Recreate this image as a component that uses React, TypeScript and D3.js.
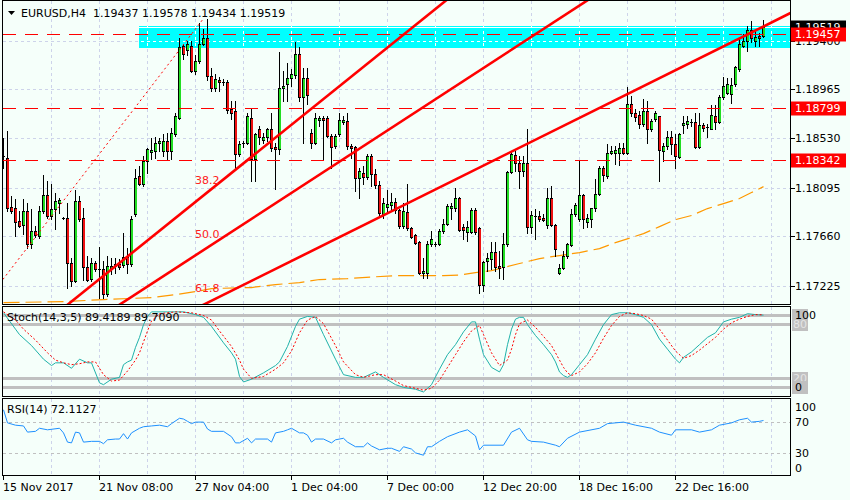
import React, {useRef, useEffect} from 'react';
import * as d3 from 'd3';

// H4 bars, [open, high, low, close]
const ohlc: [number, number, number, number][] = [
    [1.18369, 1.18530, 1.18272, 1.18378], [1.18361, 1.18601, 1.17890, 1.17917], [1.17926, 1.18023, 1.17872, 1.17890],
    [1.17917, 1.17997, 1.17668, 1.17792], [1.17801, 1.17890, 1.17748, 1.17757], [1.17766, 1.17997, 1.17686, 1.17890],
    [1.17890, 1.17961, 1.17562, 1.17597], [1.17597, 1.17908, 1.17562, 1.17713], [1.17713, 1.17757, 1.17659, 1.17677],
    [1.17668, 1.17935, 1.17651, 1.17890], [1.17890, 1.18209, 1.17872, 1.18032], [1.18032, 1.18157, 1.17828, 1.17846],
    [1.17846, 1.18130, 1.17819, 1.17908], [1.17908, 1.18050, 1.17730, 1.17979], [1.17961, 1.18005, 1.17872, 1.17988],
    [1.17828, 1.17837, 1.17819, 1.17828], [1.17828, 1.17961, 1.17207, 1.17429], [1.17429, 1.17473, 1.17224, 1.17269],
    [1.17269, 1.18077, 1.17260, 1.17979], [1.17979, 1.18023, 1.17801, 1.17819], [1.17828, 1.17917, 1.17278, 1.17393],
    [1.17393, 1.17491, 1.17269, 1.17278], [1.17286, 1.17473, 1.17269, 1.17429], [1.17429, 1.17446, 1.17357, 1.17375],
    [1.17375, 1.17571, 1.17118, 1.17366], [1.17375, 1.17446, 1.17118, 1.17153], [1.17153, 1.17491, 1.17135, 1.17402],
    [1.17375, 1.17473, 1.17331, 1.17402], [1.17402, 1.17473, 1.17340, 1.17420], [1.17420, 1.17464, 1.17375, 1.17393],
    [1.17411, 1.17695, 1.17393, 1.17482], [1.17482, 1.17562, 1.17340, 1.17420], [1.17420, 1.17846, 1.17402, 1.17819],
    [1.17863, 1.18263, 1.17846, 1.18183], [1.18201, 1.18290, 1.18121, 1.18130], [1.18130, 1.18378, 1.18112, 1.18334],
    [1.18334, 1.18449, 1.18227, 1.18441], [1.18414, 1.18530, 1.18352, 1.18432], [1.18423, 1.18539, 1.18361, 1.18494],
    [1.18494, 1.18530, 1.18423, 1.18512], [1.18423, 1.18574, 1.18378, 1.18512], [1.18512, 1.18583, 1.18352, 1.18423],
    [1.18423, 1.18627, 1.18352, 1.18583], [1.18574, 1.18752, 1.18556, 1.18734], [1.18716, 1.19426, 1.18707, 1.19338],
    [1.19355, 1.19373, 1.19240, 1.19284], [1.19320, 1.19400, 1.19267, 1.19373], [1.19355, 1.19400, 1.19116, 1.19133],
    [1.19133, 1.19267, 1.19107, 1.19222], [1.19222, 1.19551, 1.19196, 1.19373], [1.19373, 1.19506, 1.19364, 1.19418],
    [1.19418, 1.19595, 1.19045, 1.19089], [1.19089, 1.19160, 1.18956, 1.18982], [1.18974, 1.19107, 1.18956, 1.19062],
    [1.19053, 1.19080, 1.18956, 1.19036], [1.19036, 1.19062, 1.19009, 1.19027], [1.19036, 1.19045, 1.18760, 1.18787],
    [1.18796, 1.18867, 1.18707, 1.18760], [1.18778, 1.18867, 1.18263, 1.18396], [1.18396, 1.18512, 1.18378, 1.18485],
    [1.18485, 1.18512, 1.18458, 1.18494], [1.18494, 1.18760, 1.18485, 1.18734], [1.18716, 1.18805, 1.18157, 1.18352],
    [1.18352, 1.18583, 1.18157, 1.18574], [1.18618, 1.18645, 1.18485, 1.18539], [1.18521, 1.18583, 1.18494, 1.18539],
    [1.18539, 1.18627, 1.18512, 1.18610], [1.18610, 1.18752, 1.18423, 1.18449], [1.18458, 1.18494, 1.18085, 1.18441],
    [1.18441, 1.19302, 1.18396, 1.18982], [1.18982, 1.19133, 1.18867, 1.19000], [1.19018, 1.19196, 1.18867, 1.19071],
    [1.19071, 1.19151, 1.19000, 1.19107], [1.19098, 1.19391, 1.19071, 1.19284], [1.19284, 1.19338, 1.18867, 1.18894],
    [1.18894, 1.19160, 1.18494, 1.19071], [1.19071, 1.19160, 1.18840, 1.18912], [1.18583, 1.18618, 1.18449, 1.18494],
    [1.18494, 1.18752, 1.18485, 1.18716], [1.18698, 1.18734, 1.18645, 1.18716], [1.18716, 1.18734, 1.18352, 1.18698],
    [1.18716, 1.18734, 1.18539, 1.18556], [1.18556, 1.18574, 1.18272, 1.18458], [1.18467, 1.18574, 1.18449, 1.18556],
    [1.18574, 1.18752, 1.18556, 1.18698], [1.18680, 1.18734, 1.18663, 1.18698], [1.18689, 1.18752, 1.18441, 1.18467],
    [1.18467, 1.18485, 1.18361, 1.18449], [1.18458, 1.18467, 1.18068, 1.18183], [1.18183, 1.18272, 1.18005, 1.18245],
    [1.18227, 1.18290, 1.18130, 1.18192], [1.18192, 1.18396, 1.18174, 1.18378], [1.18378, 1.18396, 1.18112, 1.18218],
    [1.18218, 1.18263, 1.18094, 1.18121], [1.18121, 1.18157, 1.17846, 1.17872], [1.17863, 1.18005, 1.17828, 1.17961],
    [1.17926, 1.18077, 1.17872, 1.17952], [1.17943, 1.18050, 1.17890, 1.17970], [1.17970, 1.18005, 1.17872, 1.17899],
    [1.17899, 1.17908, 1.17739, 1.17757], [1.17757, 1.17961, 1.17739, 1.17890], [1.17881, 1.18130, 1.17722, 1.17739],
    [1.17739, 1.17748, 1.17651, 1.17659], [1.17677, 1.17686, 1.17597, 1.17606], [1.17615, 1.17624, 1.17331, 1.17340],
    [1.17340, 1.17473, 1.17295, 1.17357], [1.17340, 1.17624, 1.17295, 1.17597], [1.17597, 1.17713, 1.17579, 1.17642],
    [1.17597, 1.17615, 1.17579, 1.17588], [1.17597, 1.17730, 1.17588, 1.17713], [1.17713, 1.17819, 1.17695, 1.17775],
    [1.17775, 1.17952, 1.17766, 1.17935], [1.17917, 1.17961, 1.17819, 1.17935], [1.17917, 1.18094, 1.17890, 1.18005],
    [1.18005, 1.18014, 1.17713, 1.17722], [1.17748, 1.17775, 1.17642, 1.17722], [1.17704, 1.17801, 1.17624, 1.17748],
    [1.17704, 1.17917, 1.17695, 1.17899], [1.17899, 1.17917, 1.17686, 1.17704], [1.17739, 1.17748, 1.17162, 1.17233],
    [1.17233, 1.17446, 1.17180, 1.17437], [1.17446, 1.17517, 1.17357, 1.17473], [1.17464, 1.17615, 1.17375, 1.17526],
    [1.17526, 1.17615, 1.17357, 1.17393], [1.17402, 1.17535, 1.17295, 1.17384], [1.17393, 1.17695, 1.17286, 1.17597],
    [1.17597, 1.18245, 1.17579, 1.18236], [1.18236, 1.18423, 1.18227, 1.18396], [1.18387, 1.18423, 1.18245, 1.18316],
    [1.18316, 1.18378, 1.18094, 1.18245], [1.18245, 1.18378, 1.18201, 1.18316], [1.18316, 1.18618, 1.17695, 1.17748],
    [1.17748, 1.17890, 1.17695, 1.17855], [1.17846, 1.17908, 1.17642, 1.17837], [1.17846, 1.17890, 1.17801, 1.17819],
    [1.17828, 1.17863, 1.17801, 1.17810], [1.17766, 1.18094, 1.17739, 1.18005], [1.18005, 1.18112, 1.17757, 1.17766],
    [1.17766, 1.17775, 1.17491, 1.17553], [1.17340, 1.17420, 1.17331, 1.17384], [1.17384, 1.17535, 1.17375, 1.17491],
    [1.17491, 1.17606, 1.17473, 1.17597], [1.17588, 1.17908, 1.17579, 1.17863], [1.17863, 1.17961, 1.17846, 1.17943],
    [1.17819, 1.18343, 1.17801, 1.18032], [1.18032, 1.18041, 1.17739, 1.17819], [1.17792, 1.17863, 1.17748, 1.17828],
    [1.17819, 1.17917, 1.17748, 1.17917], [1.17917, 1.18174, 1.17890, 1.18041], [1.18041, 1.18290, 1.18032, 1.18272],
    [1.18272, 1.18290, 1.18157, 1.18209], [1.18201, 1.18485, 1.18183, 1.18405], [1.18405, 1.18467, 1.18396, 1.18423],
    [1.18405, 1.18467, 1.18307, 1.18432], [1.18405, 1.18494, 1.18299, 1.18449], [1.18449, 1.18494, 1.18396, 1.18405],
    [1.18405, 1.18991, 1.18396, 1.18840], [1.18840, 1.18903, 1.18734, 1.18760], [1.18760, 1.18796, 1.18689, 1.18725],
    [1.18743, 1.18778, 1.18627, 1.18663], [1.18663, 1.18885, 1.18645, 1.18778], [1.18778, 1.18867, 1.18494, 1.18618],
    [1.18618, 1.18707, 1.18601, 1.18689], [1.18707, 1.18778, 1.18689, 1.18760], [1.18734, 1.18734, 1.18157, 1.18432],
    [1.18423, 1.18494, 1.18334, 1.18467], [1.18467, 1.18601, 1.18441, 1.18539], [1.18539, 1.18601, 1.18396, 1.18485],
    [1.18485, 1.18574, 1.18272, 1.18378], [1.18369, 1.18583, 1.18361, 1.18574], [1.18654, 1.18734, 1.18583, 1.18672],
    [1.18663, 1.18734, 1.18627, 1.18689], [1.18680, 1.18707, 1.18645, 1.18676], [1.18680, 1.18752, 1.18449, 1.18458],
    [1.18458, 1.18760, 1.18449, 1.18654], [1.18654, 1.18672, 1.18601, 1.18627], [1.18627, 1.18663, 1.18539, 1.18636],
    [1.18618, 1.18823, 1.18618, 1.18743], [1.18734, 1.18823, 1.18618, 1.18680], [1.18680, 1.18920, 1.18672, 1.18894],
    [1.18894, 1.19080, 1.18885, 1.19000], [1.18938, 1.19071, 1.18929, 1.19018], [1.18929, 1.19071, 1.18849, 1.19009],
    [1.19018, 1.19178, 1.19000, 1.19169], [1.19151, 1.19426, 1.19133, 1.19373], [1.19355, 1.19462, 1.19338, 1.19400],
    [1.19400, 1.19533, 1.19311, 1.19497], [1.19497, 1.19577, 1.19391, 1.19426], [1.19400, 1.19489, 1.19355, 1.19435],
    [1.19444, 1.19471, 1.19355, 1.19426], [1.19437, 1.19578, 1.19434, 1.19519],
];

const timeLabels = ['15 Nov 2017', '21 Nov 08:00', '27 Nov 04:00', '1 Dec 04:00', '7 Dec 00:00', '12 Dec 20:00', '18 Dec 16:00', '22 Dec 16:00'];
const timeLabelBars = [0, 24, 48, 72, 96, 120, 144, 168];
const priceTicks = [1.19400, 1.18965, 1.18530, 1.18095, 1.17660, 1.17225];
const levelLines = [1.19457, 1.18799, 1.18342];
const bidPrice = 1.19519;
const zoneBar = 34;
const zonePrices = [1.19329, 1.19533];

// orange moving average, [bar, price]
const maLine: [number, number][] = [
    [0, 1.17073], [15, 1.17082], [25, 1.17100], [37, 1.17118], [43, 1.17144], [48, 1.17171], [52, 1.17198],
    [62, 1.17207], [68, 1.17233], [74, 1.17251], [79, 1.17278], [86, 1.17286], [92, 1.17300], [98, 1.17313],
    [104, 1.17313], [110, 1.17313], [114, 1.17318], [118, 1.17340], [122, 1.17357], [125, 1.17384], [129, 1.17420],
    [134, 1.17464], [139, 1.17491], [144, 1.17517], [149, 1.17553], [153, 1.17606], [157, 1.17651], [160, 1.17686],
    [164, 1.17748], [168, 1.17810], [172, 1.17846], [176, 1.17908], [180, 1.17952], [184, 1.17997], [187, 1.18050],
    [190, 1.18103],
];

// fibonacci fan anchors [bar, price]
const fanStart: [number, number] = [-39, 1.15484];
const fanEnd: [number, number] = [50, 1.19595];
const fanLevels = [0.382, 0.5, 0.618];
const fanLabels = ['38.2', '50.0', '61.8'];
const fanLabelPrices = [1.18125, 1.17651, 1.17171];

const stochK: [number, number][] = [
    [0, 92], [3, 74], [4, 68], [7, 56], [10, 41], [12, 34], [13, 37], [15, 37], [17, 31], [19, 41], [21, 37], [22, 37],
    [24, 15], [25, 13], [27, 19], [29, 21], [30, 35], [31, 38], [32, 40], [33, 54], [34, 65], [35, 79], [36, 88],
    [37, 93], [41, 93], [45, 93], [48, 90], [50, 87], [52, 77], [55, 59], [57, 48], [58, 41], [59, 22], [60, 16],
    [62, 19], [65, 26], [68, 34], [69, 38], [71, 55], [73, 77], [74, 85], [76, 88], [78, 87], [80, 68], [83, 41],
    [85, 24], [88, 21], [90, 21], [93, 27], [95, 21], [98, 13], [100, 10], [103, 8], [105, 5], [107, 13], [109, 30],
    [111, 46], [113, 57], [115, 71], [117, 82], [118, 82], [119, 63], [120, 46], [122, 32], [124, 27], [125, 35],
    [126, 57], [127, 74], [128, 85], [129, 87], [130, 87], [131, 79], [133, 67], [135, 57], [137, 46], [138, 38],
    [139, 27], [140, 23], [141, 21], [142, 24], [144, 35], [146, 46], [148, 63], [150, 79], [152, 90], [154, 92],
    [156, 92], [158, 90], [160, 87], [162, 79], [164, 63], [166, 52], [168, 41], [169, 37], [170, 43], [172, 49],
    [174, 57], [176, 65], [178, 70], [180, 82], [182, 85], [184, 87], [186, 91], [188, 90], [190, 89.42],
];
const stochD: [number, number][] = [
    [0, 93], [3, 84], [5, 74], [8, 62], [11, 48], [13, 40], [15, 37], [17, 35], [19, 36], [21, 38], [23, 38], [25, 24],
    [27, 17], [29, 18], [31, 28], [33, 40], [34, 48], [35, 60], [36, 72], [37, 83], [39, 91], [43, 93], [47, 92],
    [50, 89], [52, 84], [54, 72], [57, 55], [59, 40], [60, 30], [62, 20], [65, 22], [68, 30], [70, 37], [72, 50],
    [74, 70], [76, 84], [78, 88], [80, 80], [83, 56], [85, 38], [88, 24], [90, 21], [93, 24], [95, 24], [98, 17],
    [100, 12], [103, 9], [105, 7], [107, 9], [109, 18], [111, 32], [113, 46], [115, 60], [117, 72], [119, 78],
    [120, 68], [122, 48], [124, 34], [126, 40], [127, 52], [128, 68], [129, 80], [131, 84], [133, 76], [135, 66],
    [137, 56], [139, 40], [140, 32], [141, 26], [142, 23], [144, 27], [146, 36], [148, 48], [150, 64], [152, 78],
    [154, 88], [156, 92], [158, 91], [160, 89], [162, 85], [164, 74], [166, 62], [168, 50], [170, 42], [172, 45],
    [174, 51], [176, 58], [178, 65], [180, 74], [182, 81], [184, 85], [186, 88], [188, 90], [190, 89.71],
];
const stochLevels = [90, 80, 20, 10];
const stochLevelText = ['', '80', '20', ''];

const rsi: [number, number][] = [
    [0, 86], [1, 69], [3, 66], [5, 65], [6, 57], [8, 58], [9, 62], [11, 60], [14, 62], [15, 56], [16, 44], [17, 43],
    [18, 57], [19, 56], [20, 44], [22, 45], [24, 45], [25, 42], [26, 47], [28, 48], [29, 48], [30, 55], [31, 48],
    [32, 56], [34, 62], [35, 64], [37, 65], [39, 66], [41, 64], [42, 68], [44, 75], [45, 74], [46, 71], [47, 68],
    [48, 70], [50, 70], [51, 61], [52, 58], [55, 58], [57, 51], [58, 43], [59, 43], [61, 49], [62, 43], [63, 48],
    [66, 48], [67, 44], [68, 56], [70, 58], [71, 60], [72, 62], [74, 56], [75, 56], [76, 53], [77, 44], [78, 48],
    [80, 48], [82, 43], [83, 47], [85, 49], [86, 44], [88, 38], [90, 38], [91, 43], [92, 39], [94, 34], [96, 36],
    [97, 36], [99, 32], [100, 38], [102, 35], [103, 30], [105, 27], [106, 38], [107, 38], [109, 45], [111, 51],
    [114, 57], [116, 60], [118, 52], [119, 34], [120, 40], [125, 40], [127, 57], [129, 62], [131, 47], [132, 45],
    [135, 44], [138, 40], [139, 38], [141, 49], [144, 57], [149, 62], [151, 68], [155, 70], [158, 66], [162, 62],
    [164, 57], [167, 53], [168, 60], [172, 60], [174, 57], [177, 60], [179, 66], [182, 69], [184, 73], [186, 75],
    [187, 70], [189, 71], [190, 72.11],
];
const rsiLevels = [70, 30];
const rsiTicks = [100, 70, 30, 0];

const FONT = 'DejaVu Sans, Verdana, sans-serif';
const GRID = '#cdd3ea';

const App: React.FC = () => {
    const svgRef = useRef<SVGSVGElement>(null);

    useEffect(() => {
        if (!svgRef.current) return;
        const svg = d3.select(svgRef.current);
        svg.selectAll('*').remove();

        const left = 2.5, right = 790.5;
        const mainTop = 0.5, mainBottom = 304.5;
        const stTop = 306.5, stBottom = 396.5;
        const rsTop = 398.5, rsBottom = 475.5;

        const x = d3.scaleLinear().domain([0, 1]).range([3.5, 7.5]);
        const y = d3.scaleLinear().domain([1.17225, 1.19400]).range([285.5, 40.5]);
        const ySt = d3.scaleLinear().domain([0, 100]).range([396.5, 305.5]);
        const yRs = d3.scaleLinear().domain([0, 100]).range([476, 399]);

        svg.append('rect').attr('width', 850).attr('height', 500).attr('fill', '#f5fffa');

        const defs = svg.append('defs');
        defs.append('clipPath').attr('id', 'clip-main').append('rect')
            .attr('x', left).attr('y', mainTop).attr('width', right - left).attr('height', mainBottom - mainTop);
        defs.append('clipPath').attr('id', 'clip-zone').append('rect')
            .attr('x', x(zoneBar) - 0.5).attr('y', y(zonePrices[1])).attr('width', right - x(zoneBar) + 0.5)
            .attr('height', y(zonePrices[0]) - y(zonePrices[1]));

        // vertical grid in every panel
        const gridBars = d3.range(12, 200, 12);
        const vgrid = (g: any, y0: number, y1: number, color: string) => {
            g.selectAll(null).data(gridBars.filter(b => x(b) < right - 2)).join('line')
                .attr('x1', (d: number) => x(d)).attr('x2', (d: number) => x(d))
                .attr('y1', y0).attr('y2', y1)
                .attr('stroke', color).attr('stroke-dasharray', '3,3');
        };
        const hgrid = (g: any, color: string) => {
            g.selectAll(null).data(priceTicks).join('line')
                .attr('x1', left).attr('x2', right)
                .attr('y1', (d: number) => Math.round(y(d)) + 0.5).attr('y2', (d: number) => Math.round(y(d)) + 0.5)
                .attr('stroke', color).attr('stroke-dasharray', '3,3');
        };

        const main = svg.append('g').attr('clip-path', 'url(#clip-main)').attr('shape-rendering', 'crispEdges');
        vgrid(main, mainTop, mainBottom, GRID);
        hgrid(main, GRID);

        // cyan zone
        main.append('rect')
            .attr('x', x(zoneBar) - 0.5).attr('y', y(zonePrices[1]))
            .attr('width', right - x(zoneBar) + 0.5).attr('height', y(zonePrices[0]) - y(zonePrices[1]))
            .attr('fill', '#00ffff');
        const zg = main.append('g').attr('clip-path', 'url(#clip-zone)');
        vgrid(zg, mainTop, mainBottom, '#ffffff');
        hgrid(zg, '#ffffff');
        zg.append('line').attr('x1', left).attr('x2', right)
            .attr('y1', Math.round(y(bidPrice)) + 0.5).attr('y2', Math.round(y(bidPrice)) + 0.5)
            .attr('stroke', '#ffffff');

        // moving average
        main.append('path').datum(maLine)
            .attr('d', d3.line<[number, number]>().x(d => x(d[0])).y(d => y(d[1])))
            .attr('fill', 'none').attr('stroke', '#ff9900').attr('stroke-width', 1.2)
            .attr('stroke-dasharray', '16,6').attr('shape-rendering', 'auto');

        // candles: black outline, coloured body
        const candles = main.append('g');
        ohlc.forEach(([o, h, l, c], i) => {
            const cx = x(i);
            candles.append('line')
                .attr('x1', cx).attr('x2', cx)
                .attr('y1', Math.round(y(h))).attr('y2', Math.round(y(l)) + 1)
                .attr('stroke', '#000');
            const top = Math.round(y(Math.max(o, c)));
            const bot = Math.round(y(Math.min(o, c)));
            if (bot - top < 2) {
                candles.append('line').attr('x1', cx - 1.5).attr('x2', cx + 1.5)
                    .attr('y1', top + 0.5).attr('y2', top + 0.5).attr('stroke', '#000');
                return;
            }
            candles.append('rect')
                .attr('x', cx - 1.5).attr('y', top).attr('width', 3).attr('height', bot - top + 1)
                .attr('fill', '#000');
            candles.append('rect')
                .attr('x', cx - 0.5).attr('y', top + 1).attr('width', 2).attr('height', bot - top - 1)
                .attr('fill', c >= o ? '#22dd22' : '#ee1111');
        });

        // horizontal levels
        main.selectAll(null).data(levelLines).join('line')
            .attr('x1', left).attr('x2', right)
            .attr('y1', d => Math.round(y(d)) + 0.5).attr('y2', d => Math.round(y(d)) + 0.5)
            .attr('stroke', '#ff0000').attr('stroke-dasharray', '13,9');

        // fibonacci fan
        const ax = x(fanStart[0]), ay = y(fanStart[1]);
        const bx = x(fanEnd[0]), by = y(fanEnd[1]);
        main.append('line').attr('x1', ax).attr('y1', ay).attr('x2', bx).attr('y2', by)
            .attr('stroke', '#ff0000').attr('stroke-dasharray', '2,3').attr('shape-rendering', 'auto');
        fanLevels.forEach(r => {
            const py = by + r * (ay - by);
            const slope = (py - ay) / (bx - ax);
            main.append('line')
                .attr('x1', ax).attr('y1', ay)
                .attr('x2', right).attr('y2', ay + slope * (right - ax))
                .attr('stroke', '#ff0000').attr('stroke-width', 2.6).attr('shape-rendering', 'auto');
        });
        main.selectAll(null).data(fanLabels).join('text')
            .attr('x', x(fanEnd[0] + 4)).attr('y', (d, i) => y(fanLabelPrices[i]))
            .attr('text-anchor', 'end')
            .style('font-family', FONT).style('font-size', '11px').attr('fill', '#ff2020')
            .text(d => d);

        // header
        svg.append('path').attr('d', 'M8,11 L15,11 L11.5,15 Z').attr('fill', '#000');
        svg.append('text').attr('x', 21).attr('y', 17).attr('xml:space', 'preserve')
            .style('font-family', FONT).style('font-size', '11px').style('white-space', 'pre')
            .text('EURUSD,H4  1.19437 1.19578 1.19434 1.19519');

        // price axis
        const axis = svg.append('g').style('font-family', FONT).style('font-size', '11px');
        priceTicks.forEach(p => {
            const yy = Math.round(y(p)) + 0.5;
            axis.append('line').attr('x1', right).attr('x2', right + 4).attr('y1', yy).attr('y2', yy)
                .attr('stroke', '#000').attr('shape-rendering', 'crispEdges');
            axis.append('text').attr('x', 795).attr('y', yy).attr('dy', '0.35em').text(p.toFixed(5));
        });
        const tag = (p: number, bg: string) => {
            const yy = Math.round(y(p));
            axis.append('rect').attr('x', 791).attr('y', yy - 6.5).attr('width', 55).attr('height', 14).attr('fill', bg);
            axis.append('text').attr('x', 795).attr('y', yy + 0.5).attr('dy', '0.35em').attr('fill', '#fff').text(p.toFixed(5));
        };
        tag(bidPrice, '#000');
        levelLines.forEach(p => tag(p, '#ff0000'));

        // stochastic panel
        const st = svg.append('g').attr('shape-rendering', 'crispEdges');
        vgrid(st, stTop, stBottom, GRID);
        st.selectAll(null).data(stochLevels).join('line')
            .attr('x1', left).attr('x2', right)
            .attr('y1', d => Math.round(ySt(d)) + 0.5).attr('y2', d => Math.round(ySt(d)) + 0.5)
            .attr('stroke', '#c0c0c0').attr('stroke-width', 3);
        const stLine = d3.line<[number, number]>().x(d => x(d[0])).y(d => ySt(d[1]));
        st.append('path').datum(stochK).attr('d', stLine).attr('fill', 'none')
            .attr('stroke', '#20b2aa').attr('shape-rendering', 'auto');
        st.append('path').datum(stochD).attr('d', stLine).attr('fill', 'none')
            .attr('stroke', '#ff0000').attr('stroke-dasharray', '2,2').attr('shape-rendering', 'auto');
        st.append('text').attr('x', 7).attr('y', 321).style('font-family', FONT).style('font-size', '11px')
            .text('Stoch(14,3,5) 89.4189 89.7090');
        stochLevels.forEach((v, i) => {
            const yy = Math.round(ySt(v));
            st.append('rect').attr('x', 792).attr('y', yy - 6).attr('width', 16).attr('height', 13).attr('fill', '#c0c0c0');
            if (stochLevelText[i]) {
                st.append('text').attr('x', 793).attr('y', yy + 0.5).attr('dy', '0.35em')
                    .style('font-family', FONT).style('font-size', '11px').attr('fill', '#e4e4e4').text(stochLevelText[i]);
            }
        });
        st.append('text').attr('x', 795).attr('y', Math.round(ySt(90)) + 0.5).attr('dy', '0.35em')
            .style('font-family', FONT).style('font-size', '11px').text('100');
        st.append('text').attr('x', 795).attr('y', Math.round(ySt(10)) + 0.5).attr('dy', '0.35em')
            .style('font-family', FONT).style('font-size', '11px').text('0');

        // RSI panel
        const rs = svg.append('g').attr('shape-rendering', 'crispEdges');
        vgrid(rs, rsTop, rsBottom, GRID);
        rs.selectAll(null).data(rsiLevels).join('line')
            .attr('x1', left).attr('x2', right)
            .attr('y1', d => Math.round(yRs(d)) + 0.5).attr('y2', d => Math.round(yRs(d)) + 0.5)
            .attr('stroke', '#c0c0c0').attr('stroke-dasharray', '3,3');
        rs.append('path').datum(rsi)
            .attr('d', d3.line<[number, number]>().x(d => x(d[0])).y(d => yRs(d[1])))
            .attr('fill', 'none').attr('stroke', '#1e90ff').attr('shape-rendering', 'auto');
        rs.append('text').attr('x', 7).attr('y', 413).style('font-family', FONT).style('font-size', '11px')
            .text('RSI(14) 72.1127');
        rsiTicks.forEach(v => {
            const yy = v === 100 ? yRs(v) + 8 : v === 0 ? yRs(v) - 8 : Math.round(yRs(v)) + 0.5;
            rs.append('text').attr('x', 795).attr('y', yy).attr('dy', '0.35em')
                .style('font-family', FONT).style('font-size', '11px').text(String(v));
        });

        // frames
        const frames = [[mainTop, mainBottom], [stTop, stBottom], [rsTop, rsBottom]];
        frames.forEach(([t, b]) => {
            svg.append('rect').attr('x', left).attr('y', t).attr('width', right - left).attr('height', b - t)
                .attr('fill', 'none').attr('stroke', '#000').attr('shape-rendering', 'crispEdges');
        });

        // time axis
        const ta = svg.append('g').style('font-family', FONT).style('font-size', '11px');
        timeLabelBars.forEach((b, i) => {
            ta.append('line').attr('x1', x(b)).attr('x2', x(b)).attr('y1', rsBottom).attr('y2', rsBottom + 4)
                .attr('stroke', '#000').attr('shape-rendering', 'crispEdges');
            ta.append('text').attr('x', x(b) - 0.5).attr('y', 491).text(timeLabels[i]);
        });
    }, []);

    return (
        <div style={{position: 'absolute', left: 0, top: 0}}>
            <svg ref={svgRef} width={850} height={500} style={{display: 'block'}}/>
        </div>
    );
};

export default App;
